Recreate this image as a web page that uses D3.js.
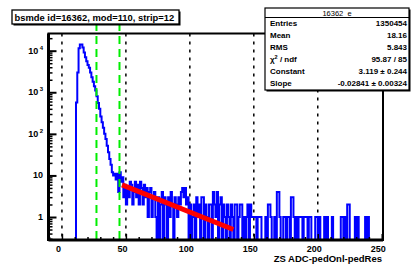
<!DOCTYPE html>
<html>
<head>
<meta charset="utf-8">
<script src="https://cdn.jsdelivr.net/npm/d3@7/dist/d3.min.js"></script>
<style>
  body { margin: 0; background: #fff; }
  svg { display: block; font-family: "Liberation Sans", Arial, sans-serif; }
</style>
</head>
<body>
<svg id="chart" width="413" height="265"></svg>
<script>
const titleText = "bsmde id=16362, mod=110, strip=12";
const xAxisTitle = "ZS ADC-pedOnl-pedRes";

// histogram: bin i covers [binStart + i, binStart + i + 1)
const binStart = 0;
const counts = [
  0, 0, 0, 0, 0, 0, 0, 0, 0, 0, 0,
  570, 3000, 11500, 14000, 14000, 12000, 9000, 7000, 5600, 4500,
  3900, 3000, 2300, 1800, 1400, 1100, 800, 550, 400, 260,
  190, 140, 100, 75, 52, 36, 25, 18, 12, 10,
  11, 8, 11, 4, 12, 7, 9, 3, 6, 2,
  5, 3, 7, 6, 2, 4, 7, 3, 6, 2,
  7, 5, 2, 6, 3, 5, 1, 4, 5, 1,
  3, 4, 1, 0, 3, 0, 2, 4, 0, 3,
  2, 0, 3, 1, 4, 2, 0, 3, 2, 1,
  3, 2, 4, 5, 3, 5, 2, 3, 0, 2,
  0, 1, 2, 0, 3, 1, 2, 0, 3, 3,
  0, 2, 1, 0, 2, 2, 0, 4, 2, 1,
  4, 0, 2, 3, 0, 2, 1, 0, 2, 1,
  0, 2, 1, 0, 2, 2, 0, 1, 2, 2,
  0, 1, 0, 1, 2, 0, 2, 1, 1, 1,
  1, 0, 1, 1, 1, 0, 0, 0, 1, 0,
  2, 2, 1, 0, 0, 1, 0, 4, 4, 1,
  0, 0, 1, 1, 0, 1, 1, 0, 3, 3,
  1, 0, 1, 0, 1, 1, 1, 0, 1, 1,
  1, 0, 1, 1, 0, 0, 0, 1, 1, 0,
  1, 0, 0, 0, 1, 0, 1, 0, 0, 0,
  1, 0, 0, 0, 0, 0, 0, 1, 1, 0,
  1, 0, 2, 2, 0, 0, 0, 0, 1, 0,
  1, 0, 0, 0, 0, 0, 1, 0, 1, 0,
  0, 0, 0, 0, 0, 0, 0, 0, 0
];

// exponential fit drawn as a straight segment on the log axis
const fitX = [47, 134];
const fitY = [5.95, 0.50];

// green cut lines
const cutLines = [27, 45];

const xGrid = [0, 50, 100, 150, 200];
const xMajor = [0, 50, 100, 150, 200, 250];
const xLabels = ["0", "50", "100", "150", "200", "250"];
const yMajor = [1, 10, 100, 1000, 10000];
const yLabels = [["1", ""], ["10", ""], ["10", "2"], ["10", "3"], ["10", "4"]];

const statsHeader = "16362_e";
const statsNames = ["Entries", "Mean", "RMS", "χ2 / ndf", "Constant", "Slope"];
const statsValues = ["1350454", "18.16", "5.843", "95.87 / 85", "3.119 ± 0.244", "-0.02841 ± 0.00324"];

const svg = d3.select("#chart");
const frame = { left: 48.5, right: 383, top: 33.5, bottom: 240 };

const x = d3.scaleLinear().domain([-10.5, 251]).range([frame.left, frame.right]);
const y = d3.scaleLog().domain([0.28, 25900]).range([frame.bottom, frame.top]);

svg.append("rect").attr("width", 413).attr("height", 265).attr("fill", "#fff");

svg.append("defs").append("clipPath").attr("id", "plot-clip")
  .append("rect")
  .attr("x", frame.left).attr("y", frame.top)
  .attr("width", frame.right - frame.left).attr("height", frame.bottom - frame.top);

// grid
svg.append("g").selectAll("line")
  .data(xGrid)
  .enter()
  .append("line")
  .attr("x1", d => x(d)).attr("x2", d => x(d))
  .attr("y1", frame.top).attr("y2", frame.bottom)
  .attr("stroke", "#000")
  .attr("stroke-width", 1.5)
  .attr("stroke-dasharray", "3,5");

// histogram outline
const pts = [];
counts.forEach((c, i) => {
  pts.push([binStart + i, c]);
  pts.push([binStart + i + 1, c]);
});
const histLine = d3.line()
  .x(d => x(d[0]))
  .y(d => d[1] > 0 ? y(d[1]) : frame.bottom + 2);

svg.append("path")
  .datum(pts)
  .attr("clip-path", "url(#plot-clip)")
  .attr("d", histLine)
  .attr("fill", "none")
  .attr("stroke", "#0000ff")
  .attr("stroke-width", 2);

// fit
svg.append("path")
  .datum(fitX.map((v, i) => [v, fitY[i]]))
  .attr("d", d3.line().x(d => x(d[0])).y(d => y(d[1])))
  .attr("fill", "none")
  .attr("stroke", "#ff0000")
  .attr("stroke-width", 5);

// cut lines
svg.append("g").selectAll("line")
  .data(cutLines)
  .enter()
  .append("line")
  .attr("x1", d => x(d)).attr("x2", d => x(d))
  .attr("y1", 10).attr("y2", frame.bottom)
  .attr("stroke", "#00ee00")
  .attr("stroke-width", 2)
  .attr("stroke-dasharray", "8,5");

// y ticks (inside the frame)
const yMinor = [];
[0.1, 1, 10, 100, 1000, 10000].forEach(dec => {
  for (let k = 2; k <= 9; k++) {
    const v = dec * k;
    if (v > 0.28 && v < 25900) yMinor.push(v);
  }
});
svg.append("g")
  .attr("transform", `translate(${frame.left},0)`)
  .call(d3.axisRight(y).tickValues(yMinor).tickSize(4).tickFormat(""))
  .call(g => g.select(".domain").remove())
  .selectAll("line").attr("stroke-width", 1.5);
svg.append("g")
  .attr("transform", `translate(${frame.left},0)`)
  .call(d3.axisRight(y).tickValues(yMajor).tickSize(8).tickFormat(""))
  .call(g => g.select(".domain").remove())
  .selectAll("line").attr("stroke-width", 2);

// x ticks (pointing up from the bottom)
const xMinor = d3.range(-10, 251, 10).filter(v => v % 50 !== 0);
svg.append("g")
  .attr("transform", `translate(0,${frame.bottom})`)
  .call(d3.axisTop(x).tickValues(xMinor).tickSize(3).tickFormat(""))
  .call(g => g.select(".domain").remove())
  .selectAll("line").attr("stroke-width", 1.5);
svg.append("g")
  .attr("transform", `translate(0,${frame.bottom})`)
  .call(d3.axisTop(x).tickValues(xMajor).tickSize(6).tickFormat(""))
  .call(g => g.select(".domain").remove())
  .selectAll("line").attr("stroke-width", 1.5);

// frame
svg.append("rect")
  .attr("x", frame.left).attr("y", frame.top)
  .attr("width", frame.right - frame.left).attr("height", frame.bottom - frame.top)
  .attr("fill", "none")
  .attr("stroke", "#000")
  .attr("stroke-width", 2);
svg.append("line")
  .attr("x1", frame.left).attr("x2", frame.left)
  .attr("y1", frame.top).attr("y2", frame.bottom + 1)
  .attr("stroke", "#000").attr("stroke-width", 3);
svg.append("line")
  .attr("x1", frame.left).attr("x2", frame.right)
  .attr("y1", frame.bottom).attr("y2", frame.bottom)
  .attr("stroke", "#000").attr("stroke-width", 3);

// x labels
svg.append("g").selectAll("text")
  .data(xMajor)
  .enter()
  .append("text")
  .attr("x", d => x(d) - 3.5)
  .attr("y", 252)
  .attr("text-anchor", "middle")
  .style("font-size", "9px")
  .style("font-weight", "bold")
  .text((d, i) => xLabels[i]);

// y labels
const yl = svg.append("g").selectAll("text")
  .data(yMajor)
  .enter()
  .append("text")
  .attr("x", 43)
  .attr("y", d => y(d) + 3)
  .attr("text-anchor", "end")
  .style("font-size", "9px")
  .style("font-weight", "bold");
yl.append("tspan").text((d, i) => yLabels[i][0]);
yl.append("tspan")
  .attr("dy", -4)
  .attr("dx", 1.5)
  .style("font-size", "6px")
  .text((d, i) => yLabels[i][1]);

svg.append("text")
  .attr("x", 382)
  .attr("y", 262)
  .attr("text-anchor", "end")
  .style("font-size", "9.5px")
  .style("font-weight", "bold")
  .text(xAxisTitle);

// title box
svg.append("rect")
  .attr("x", 13.5).attr("y", 11.5).attr("width", 167).attr("height", 14)
  .attr("fill", "#000");
svg.append("rect")
  .attr("x", 12).attr("y", 10).attr("width", 167).attr("height", 14)
  .attr("fill", "#fff")
  .attr("stroke", "#000")
  .attr("stroke-width", 1.3);
svg.append("text")
  .attr("x", 14.5)
  .attr("y", 20.8)
  .style("font-size", "9.4px")
  .style("font-weight", "bold")
  .text(titleText);

// stats box
const sb = { x: 265, y: 8, w: 144, h: 82 };
svg.append("rect")
  .attr("x", sb.x + 1.5).attr("y", sb.y + 1.5).attr("width", sb.w).attr("height", sb.h)
  .attr("fill", "#000");
svg.append("rect")
  .attr("x", sb.x).attr("y", sb.y).attr("width", sb.w).attr("height", sb.h)
  .attr("fill", "#fff")
  .attr("stroke", "#000")
  .attr("stroke-width", 1.2);
svg.append("line")
  .attr("x1", sb.x).attr("x2", sb.x + sb.w)
  .attr("y1", 17.5).attr("y2", 17.5)
  .attr("stroke", "#000").attr("stroke-width", 1);
svg.append("text")
  .attr("x", sb.x + sb.w / 2)
  .attr("y", 15.5)
  .attr("text-anchor", "middle")
  .style("font-size", "7.5px")
  .text(statsHeader);

const rowY = d3.scaleLinear().domain([0, 5]).range([26, 86]);
const names = svg.append("g").selectAll("text")
  .data(statsNames)
  .enter()
  .append("text")
  .attr("x", 270)
  .attr("y", (d, i) => rowY(i))
  .style("font-size", "8px")
  .style("font-weight", "bold");
names.each(function (d) {
  const t = d3.select(this);
  if (d.startsWith("χ2")) {
    t.append("tspan").text("χ");
    t.append("tspan").attr("dy", -3).style("font-size", "5.5px").text("2");
    t.append("tspan").attr("dy", 3).text(" / ndf");
  } else {
    t.text(d);
  }
});
svg.append("g").selectAll("text")
  .data(statsValues)
  .enter()
  .append("text")
  .attr("x", 407)
  .attr("y", (d, i) => rowY(i))
  .attr("text-anchor", "end")
  .style("font-size", "8px")
  .style("font-weight", "bold")
  .text(d => d);
</script>
</body>
</html>
